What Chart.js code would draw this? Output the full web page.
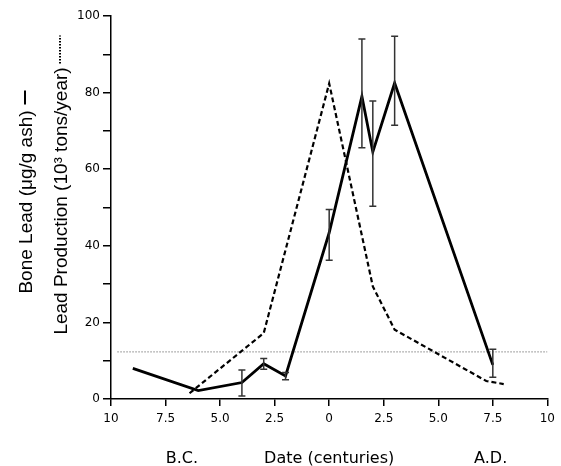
<!DOCTYPE html>
<html>
<head>
<meta charset="utf-8">
<script src="https://cdn.jsdelivr.net/npm/chart.js@4/dist/chart.umd.min.js"></script>
<style>
  html, body { margin: 0; padding: 0; background: #fff; }
  #wrap { width: 561px; height: 466px; position: relative; }
</style>
</head>
<body>
<div id="wrap"><canvas id="leadChart"></canvas></div>
<script>
// Plomo óseo (línea continua) y producción de plomo (discontinua)
const boneX = [-9, -6, -4, -3, -2, 0, 1.5, 2, 3, 7.5];
const boneY = [8, 2.2, 4.3, 9.2, 6, 43.4, 79, 64.5, 82.5, 8.9];
const boneErrLow = [null, null, 0.8, 7.8, 5.0, 36.2, 65.6, 50.3, 71.5, 5.7];
const boneErrHigh = [null, null, 7.6, 10.6, 6.9, 49.5, 94.0, 77.8, 94.7, 13.0];

const prodX = [-6.4, -3, 0, 2, 3, 7.2, 8];
const prodY = [1.5, 17.2, 82.4, 29.4, 18.1, 4.7, 3.9];

const refX = [-9.7, 10];
const refY = [12.3, 12.3];

const yTitles = ['Bone Lead (\u03bcg/g ash)', 'Lead Production (10\u00b3 tons/year)'];
const bottomLabels = ['B.C.', 'Date (centuries)', 'A.D.'];
const bottomLabelX = [-6.75, 0, 7.4];

const toPoints = (xs, ys) => xs.map((x, i) => ({ x: x, y: ys[i] }));

const errorBars = {
    id: 'errorBars',
    afterDatasetsDraw(chart) {
        const ctx = chart.ctx;
        const xs = chart.scales.x, ys = chart.scales.y;
        ctx.save();
        ctx.strokeStyle = '#333';
        ctx.lineWidth = 1.5;
        boneX.forEach((x, i) => {
            if (boneErrLow[i] == null) return;
            const px = xs.getPixelForValue(x);
            const top = ys.getPixelForValue(boneErrHigh[i]);
            const bot = ys.getPixelForValue(boneErrLow[i]);
            ctx.beginPath();
            ctx.moveTo(px, top); ctx.lineTo(px, bot);
            ctx.moveTo(px - 3.5, top); ctx.lineTo(px + 3.5, top);
            ctx.moveTo(px - 3.5, bot); ctx.lineTo(px + 3.5, bot);
            ctx.stroke();
        });
        ctx.restore();
    }
};

const labelsPlugin = {
    id: 'labelsPlugin',
    afterDraw(chart) {
        const ctx = chart.ctx;
        ctx.save();
        ctx.fillStyle = '#000';
        ctx.strokeStyle = '#000';
        // títulos del eje Y (rotados)
        ctx.font = '19px "Liberation Sans", Arial, sans-serif';
        const cfg = [
            { bx: 32, cy: 192, gap: 6, len: 14, dash: [], lw: 2 },
            { bx: 67, cy: 185, gap: 4, len: 28, dash: [1.5, 1.5], lw: 2 }
        ];
        yTitles.forEach((t, i) => {
            const c = cfg[i];
            const w = ctx.measureText(t).width;
            const total = w + c.gap + c.len;
            ctx.save();
            ctx.translate(c.bx, c.cy);
            ctx.rotate(-Math.PI / 2);
            ctx.textAlign = 'left';
            ctx.textBaseline = 'alphabetic';
            const x0 = -total / 2;
            ctx.fillText(t, x0, 0);
            ctx.setLineDash(c.dash);
            ctx.lineWidth = c.lw;
            ctx.beginPath();
            ctx.moveTo(x0 + w + c.gap, -7);
            ctx.lineTo(x0 + total, -7);
            ctx.stroke();
            ctx.restore();
        });
        // etiquetas inferiores
        ctx.font = '16px "DejaVu Sans", sans-serif';
        ctx.textAlign = 'center';
        ctx.textBaseline = 'alphabetic';
        bottomLabels.forEach((t, i) => {
            ctx.fillText(t, chart.scales.x.getPixelForValue(bottomLabelX[i]), 463);
        });
        ctx.restore();
    }
};

const ctx = document.getElementById('leadChart').getContext('2d');
new Chart(ctx, {
    type: 'line',
    data: {
        datasets: [
            {
                label: 'Bone Lead',
                data: toPoints(boneX, boneY),
                borderColor: '#000',
                borderWidth: 2.8,
                pointRadius: 0,
                tension: 0
            },
            {
                label: 'Lead Production',
                data: toPoints(prodX, prodY),
                borderColor: '#000',
                borderWidth: 2.2,
                borderDash: [5, 3],
                pointRadius: 0,
                tension: 0
            },
            {
                label: 'Reference',
                data: toPoints(refX, refY),
                borderColor: '#444',
                borderWidth: 1,
                borderDash: [1, 2],
                pointRadius: 0
            }
        ]
    },
    options: {
        responsive: true,
        maintainAspectRatio: false,
        animation: false,
        layout: { padding: { left: 0, right: 11, top: 16, bottom: 0 } },
        plugins: {
            legend: { display: false },
            tooltip: { enabled: false }
        },
        scales: {
            x: {
                type: 'linear',
                min: -10,
                max: 10,
                afterFit: (s) => { s.height = 67; },
                afterBuildTicks: (s) => {
                    s.ticks = [-10, -7.5, -5, -2.5, 0, 2.5, 5, 7.5, 10].map(v => ({ value: v }));
                },
                border: { color: '#000', width: 1.5 },
                grid: { display: true, drawOnChartArea: false, tickLength: 7, color: '#000', lineWidth: 1.5 },
                ticks: {
                    color: '#000',
                    padding: 6,
                    maxRotation: 0,
                    font: { family: 'DejaVu Sans', size: 12 },
                    callback: (v) => {
                        const a = Math.abs(v);
                        return (a === 0 || a === 10) ? String(a) : a.toFixed(1);
                    }
                }
            },
            y: {
                min: 0,
                max: 100,
                afterFit: (s) => { s.width = 111; },
                border: { color: '#000', width: 1.5 },
                grid: { display: true, drawOnChartArea: false, tickLength: 8, color: '#000', lineWidth: 1.5 },
                ticks: {
                    stepSize: 10,
                    color: '#000',
                    padding: 3,
                    font: { family: 'DejaVu Sans', size: 12 },
                    callback: (v) => (v % 20 === 0 ? String(v) : '')
                }
            }
        }
    },
    plugins: [errorBars, labelsPlugin]
});
</script>
</body>
</html>
